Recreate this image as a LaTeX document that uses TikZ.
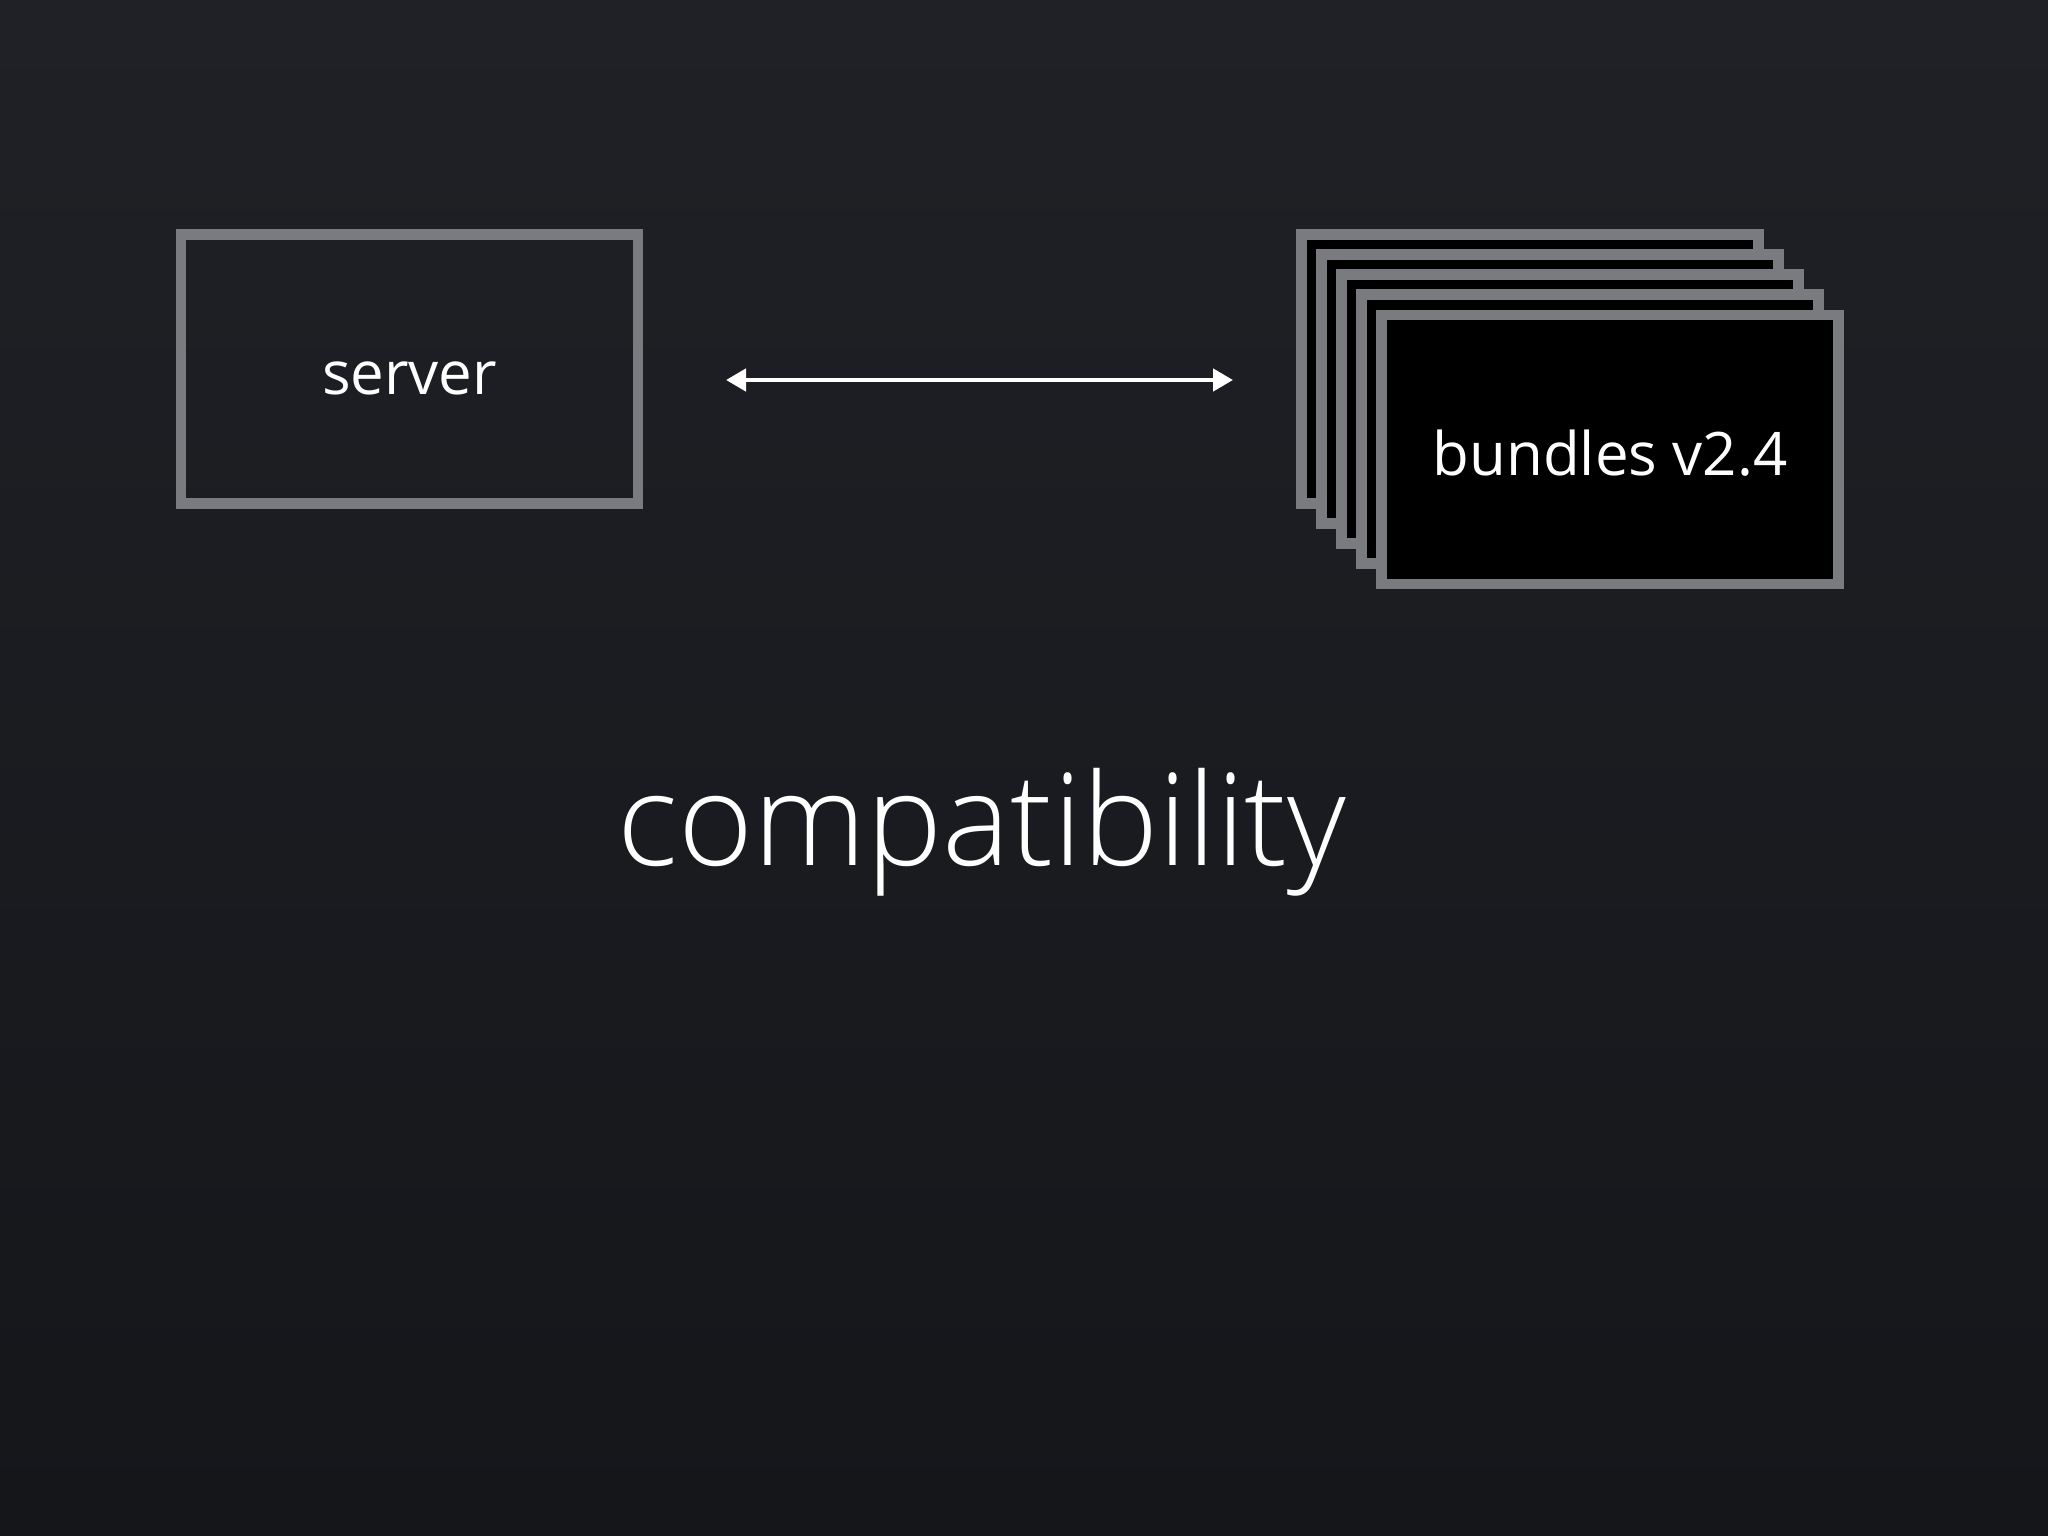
\documentclass[tikz,border=0pt]{standalone}
\usepackage{fontspec}
\setmainfont{Open Sans}
\newfontfamily\lightfont{Open Sans Light}
\usetikzlibrary{arrows.meta,shadings}
\definecolor{bgtop}{HTML}{202126}
\definecolor{bgmid}{HTML}{282A2F}
\definecolor{bgbot}{HTML}{15161A}
\definecolor{edge}{HTML}{7A7B7E}
\tikzset{
  box/.style={draw=edge, line width=10.5pt, minimum width=457pt, minimum height=269pt, inner sep=0pt, text=white, font=\fontsize{60}{62}\selectfont},
  card/.style={box, fill=black},
  link/.style={draw=white, line width=4.5pt, {Triangle[length=20pt,width=22pt]}-{Triangle[length=20pt,width=22pt]}}
}
\begin{document}
\begin{tikzpicture}[x=1pt,y=-1pt]
\shade[top color=bgtop, middle color=bgmid, bottom color=bgbot] (0,0) rectangle (2048,1536);
\useasboundingbox (0,0) rectangle (2048,1536);
\node[box] (server) at (409.5,369) {};
\node[text=white, font=\fontsize{60}{62}\selectfont] (serverlabel) at (409.5,378) {server};
\node[card] (b1) at (1530,369) {};
\node[card] (b2) at (1550,389) {};
\node[card] (b3) at (1570,409) {};
\node[card] (b4) at (1590,429) {};
\node[card] (b5) at (1610,449.5) {};
\node[text=white, font=\fontsize{60}{62}\selectfont] (b5label) at (1610,453) {bundles v2.4};
\coordinate (la) at (726,380);
\coordinate (ra) at (1233,380);
\draw[link] (la) -- (ra);
\node[text=white, font=\lightfont\fontsize{128}{134}\selectfont] (title) at (982,832) {compatibility};
\end{tikzpicture}
\end{document}
